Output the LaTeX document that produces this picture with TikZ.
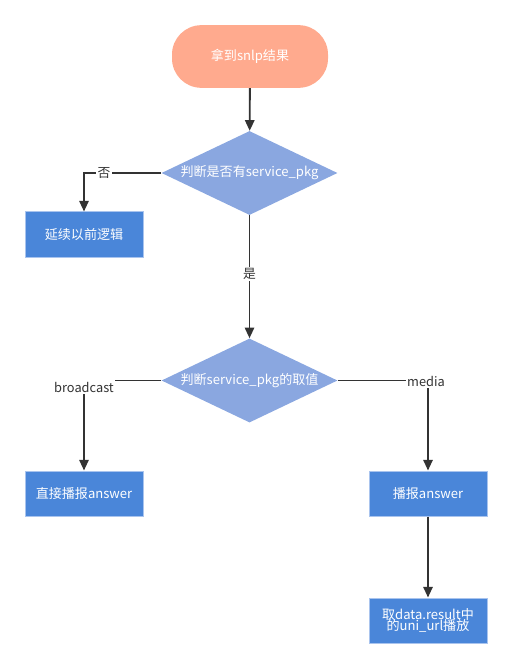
\documentclass[tikz,border=0pt]{standalone}
\usepackage{fontspec}
\setmainfont{Noto Sans CJK SC}
\usetikzlibrary{shapes.geometric,arrows.meta}
\definecolor{startc}{HTML}{FFAA8E}
\definecolor{diac}{HTML}{8AA7E0}
\definecolor{boxc}{HTML}{4A86D9}
\definecolor{boxb}{HTML}{A9C4EE}
\definecolor{linec}{HTML}{333333}
\begin{document}
\begin{tikzpicture}[x=0.75pt,y=-0.75pt,
  txt/.style={text=white,font=\fontsize{9.8}{11.5}\selectfont,align=center},
  startbox/.style={txt,fill=startc,draw=none,rounded corners=22pt,minimum width=117pt,minimum height=47pt,inner sep=0pt},
  decision/.style={txt,diamond,fill=diac,draw=none,minimum width=132pt,minimum height=63pt,inner sep=0pt,aspect=2.1},
  procbox/.style={txt,fill=boxc,draw=boxb,line width=0.5pt,minimum width=88.5pt,minimum height=34pt,inner sep=0pt},
  conn/.style={draw=linec,line width=1.4pt,-{Triangle[length=8pt,width=7pt]}},
  elabel/.style={fill=white,text=linec,font=\fontsize{9.6}{11}\selectfont,inner sep=1pt}]
\useasboundingbox (0,0) rectangle (512,670);
\node[startbox] (start) at (250,56.5) {拿到snlp结果};
\node[decision] (d1) at (249.5,173) {判断是否有service\_pkg};
\node[procbox] (old) at (84,234.5) {延续以前逻辑};
\node[decision] (d2) at (249.5,380.5) {判断service\_pkg的取值};
\node[procbox] (direct) at (84,493.5) {直接播报answer};
\node[procbox] (play) at (428,493.5) {播报answer};
\node[procbox] (uni) at (428,620.5) {取data.result中\\[-3pt]的uni\_url播放};
\coordinate (c1) at (84,173);
\coordinate (c2) at (84,380.5);
\coordinate (c3) at (428,380.5);
\draw[conn] (start) -- (d1);
\draw[conn] (d1.west) -- (c1) -- (old.north);
\node[elabel] at (104,173) {否};
\draw[conn] (d1.south) -- node[elabel,pos=0.48] {是} (d2.north);
\draw[conn] (d2.west) -- (c2) -- (direct.north);
\node[elabel] at (84,387) {broadcast};
\draw[conn] (d2.east) -- (c3) -- (play.north);
\node[elabel] at (426,381) {media};
\draw[conn] (play) -- (uni);
\end{tikzpicture}
\end{document}
